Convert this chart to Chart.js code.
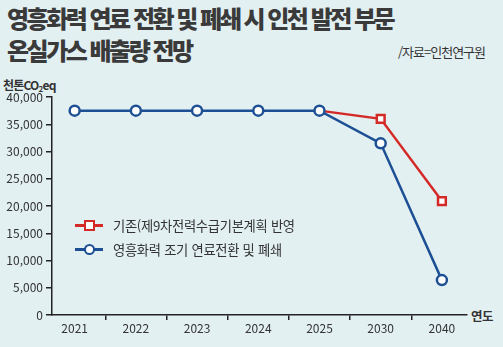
<!DOCTYPE html>
<html lang="ko">
<head>
<meta charset="utf-8">
<script src="https://cdn.jsdelivr.net/npm/chart.js@4.4.1/dist/chart.umd.min.js"></script>
<style>
  html, body { margin: 0; padding: 0; }
  body {
    width: 503px; height: 347px; overflow: hidden; position: relative;
    background: #e3f0f2; color: #333;
    font-family: "Noto Sans CJK KR", "Noto Sans", sans-serif;
  }
  .title {
    position: absolute; left: 7px; top: 2px; margin: 0;
    font-size: 24px; font-weight: 900; line-height: 32px;
    letter-spacing: -2.5px; color: #3a3a3a; white-space: nowrap;
  }
  .source {
    position: absolute; left: 398px; top: 42px;
    font-size: 13px; letter-spacing: -1px; color: #333;
  }
  .unit {
    position: absolute; left: 3px; top: 76px;
    font-size: 12px; font-weight: 700; letter-spacing: -0.8px; color: #333;
  }
  .unit sub { font-size: 8px; vertical-align: -2px; }
  .xunit {
    position: absolute; left: 471px; top: 306px;
    font-size: 12.5px; font-weight: 700; letter-spacing: -0.5px; color: #333;
  }
  #chart { position: absolute; left: 0; top: 0; }
  .legend { position: absolute; left: 75px; top: 213px; font-size: 13.3px; color: #333; letter-spacing: -0.3px; }
  .legend .row { display: flex; align-items: center; height: 24px; }
  .legend .mark { position: relative; width: 28px; height: 12px; margin-right: 10px; }
  .legend .mark .ln { position: absolute; left: 0; right: 0; top: 5px; height: 2.5px; }
  .legend .mark .pt { position: absolute; left: 9px; top: 1px; width: 7px; height: 7px; background: #fff; }
</style>
</head>
<body>
<h1 class="title">영흥화력 연료 전환 및 폐쇄 시 인천 발전 부문<br>온실가스 배출량 전망</h1>
<div class="source">/자료=인천연구원</div>
<div class="unit">천톤CO<sub>2</sub>eq</div>
<div class="xunit">연도</div>
<canvas id="chart" width="503" height="347"></canvas>
<div class="legend" id="legend"></div>
<script>
// 연도와 시나리오별 배출량(천톤CO2eq)
const years = ['2021', '2022', '2023', '2024', '2025', '2030', '2040'];
const baseline = [null, null, null, null, 37500, 36000, 20900];
const earlyClosure = [37500, 37500, 37500, 37500, 37500, 31500, 6400];
const yTicks = [0, 5000, 10000, 15000, 20000, 25000, 30000, 35000, 40000];

const seriesNames = ['기존(제9차전력수급기본계획 반영', '영흥화력 조기 연료전환 및 폐쇄'];
const red = '#d42a27';
const blue = '#1d4f94';

// 인덱스 기반 x축에 점 올리기
const toPoints = arr => arr.map((v, i) => ({ x: i, y: v }));

const data = {
    datasets: [{
        label: seriesNames[0],
        data: toPoints(baseline),
        borderColor: red,
        backgroundColor: '#fff',
        borderWidth: 2.5,
        pointStyle: 'rect',
        pointRadius: baseline.map((v, i) => i < 5 ? 0 : 5.5),
        pointBorderWidth: 2.5,
        order: 1
    }, {
        label: seriesNames[1],
        data: toPoints(earlyClosure),
        borderColor: blue,
        backgroundColor: '#fff',
        borderWidth: 2.5,
        pointStyle: 'circle',
        pointRadius: 5,
        pointBorderWidth: 2.5,
        order: 0
    }]
};

const tickFont = { family: '"Noto Sans CJK KR", "Noto Sans", sans-serif', size: 12 };

const config = {
    type: 'line',
    data: data,
    options: {
        responsive: false,
        animation: false,
        layout: { padding: { top: 97, right: 36, left: 0, bottom: 0 } },
        plugins: { legend: { display: false }, tooltip: { enabled: false } },
        scales: {
            x: {
                type: 'linear',
                min: -0.37,
                max: 6.41,
                afterBuildTicks: scale => { scale.ticks = years.map((_, i) => ({ value: i })); },
                afterFit: scale => { scale.height = 32; },
                ticks: {
                    autoSkip: false,
                    maxRotation: 0,
                    padding: 1,
                    color: '#333',
                    font: tickFont,
                    callback: v => years[v]
                },
                grid: { offset: true, drawOnChartArea: false, tickLength: 5, color: '#222', lineWidth: 1.5 },
                border: { color: '#222', width: 1.5 }
            },
            y: {
                min: 0,
                max: 40000,
                afterBuildTicks: scale => { scale.ticks = yTicks.map(v => ({ value: v })); },
                afterFit: scale => { scale.width = 52; },
                ticks: {
                    padding: 3,
                    color: '#333',
                    font: tickFont,
                    callback: v => v.toLocaleString('en-US')
                },
                grid: { drawOnChartArea: false, tickLength: 6, color: '#222', lineWidth: 1.5 },
                border: { color: '#222', width: 1.5 }
            }
        }
    }
};

const chart = new Chart(document.getElementById('chart'), config);

// 범례: 선 + 마커
const legend = document.getElementById('legend');
[0, 1].forEach(i => {
    const ds = data.datasets[i];
    const row = document.createElement('div');
    row.className = 'row';
    const mark = document.createElement('span');
    mark.className = 'mark';
    const ln = document.createElement('span');
    ln.className = 'ln';
    ln.style.background = ds.borderColor;
    const pt = document.createElement('span');
    pt.className = 'pt';
    pt.style.border = '2px solid ' + ds.borderColor;
    if (ds.pointStyle === 'circle') pt.style.borderRadius = '50%';
    mark.appendChild(ln);
    mark.appendChild(pt);
    const txt = document.createElement('span');
    txt.textContent = ds.label;
    row.appendChild(mark);
    row.appendChild(txt);
    legend.appendChild(row);
});
</script>
</body>
</html>
